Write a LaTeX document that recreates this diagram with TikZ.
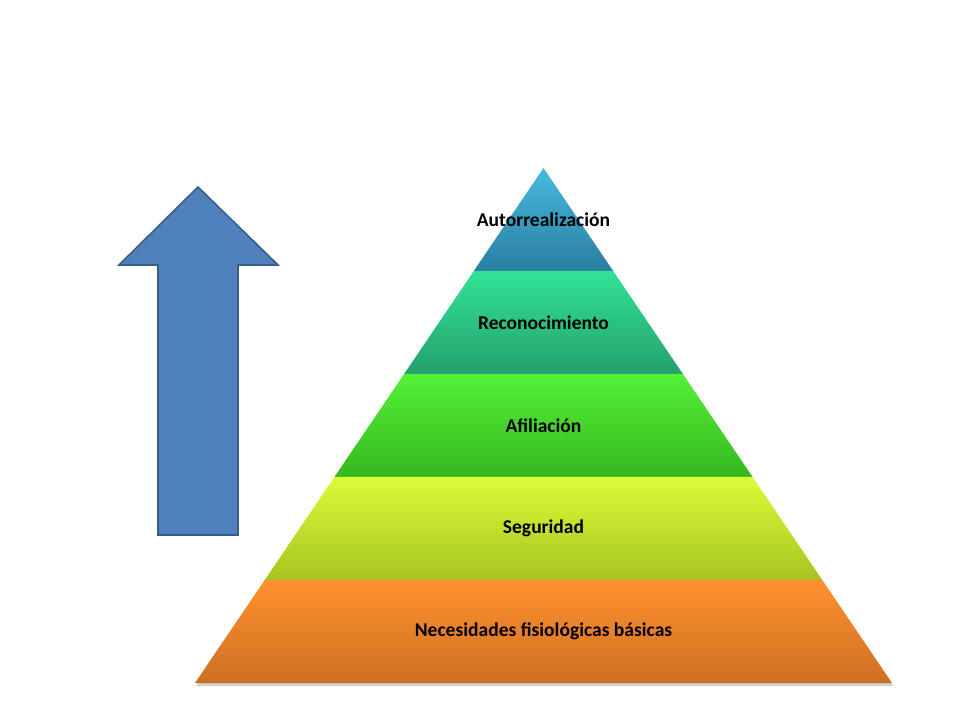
\documentclass[tikz,border=0pt]{standalone}
\usepackage{fontspec}
\setmainfont{Carlito}
\usetikzlibrary{calc}
% layer colours (top / bottom of each band)
\definecolor{autoTop}{RGB}{72,186,222}
\definecolor{autoBot}{RGB}{40,126,160}
\definecolor{recoTop}{RGB}{50,226,150}
\definecolor{recoBot}{RGB}{36,160,110}
\definecolor{afilTop}{RGB}{86,240,56}
\definecolor{afilBot}{RGB}{52,184,30}
\definecolor{seguTop}{RGB}{218,252,56}
\definecolor{seguBot}{RGB}{166,196,32}
\definecolor{neceTop}{RGB}{255,146,46}
\definecolor{neceBot}{RGB}{206,110,36}
\definecolor{arrowFill}{RGB}{79,129,189}
\definecolor{arrowLine}{RGB}{56,93,138}

\begin{document}
\begin{tikzpicture}[x=1bp, y=-1bp,
  layertext/.style={font=\bfseries\fontsize{19.6}{23}\selectfont, text=black}]
  \useasboundingbox (0,0) rectangle (960,720);
  % Pyramid corners
  \coordinate (apex) at (543.5,168);
  \coordinate (baseL) at (195,683);
  \coordinate (baseR) at (892,683);
  \coordinate (baseM) at (apex|-baseL);
  % Soft shadow under the pyramid
  \fill[black!18] ($(apex)+(1,3)$) -- ($(baseR)+(1,3)$) -- ($(baseL)+(1,3)$) -- cycle;
  % Bands, from the top down
  \foreach \i/\lab/\ctop/\cbot in {0/Autorrealización/autoTop/autoBot,
      1/Reconocimiento/recoTop/recoBot, 2/Afiliación/afilTop/afilBot,
      3/Seguridad/seguTop/seguBot, 4/Necesidades fisiológicas básicas/neceTop/neceBot}
  {
    \pgfmathsetmacro{\ta}{\i/5}
    \pgfmathsetmacro{\tb}{(\i+1)/5}
    \pgfmathsetmacro{\tm}{(\i+0.5)/5}
    \shade[top color=\ctop, bottom color=\cbot]
      ($(apex)!\ta!(baseL)$) -- ($(apex)!\ta!(baseR)$)
      -- ($(apex)!\tb!(baseR)$) -- ($(apex)!\tb!(baseL)$) -- cycle;
    \node[layertext] (layer\i) at ($(apex)!\tm!(baseM)$) {\lab};
  }
  % Upward arrow
  \draw[arrowLine, fill=arrowFill, line width=1.6bp, line join=miter]
    (158,535) -- (158,265) -- (119,265) -- (198,187) -- (278,265)
    -- (238,265) -- (238,535) -- cycle;
\end{tikzpicture}
\end{document}
